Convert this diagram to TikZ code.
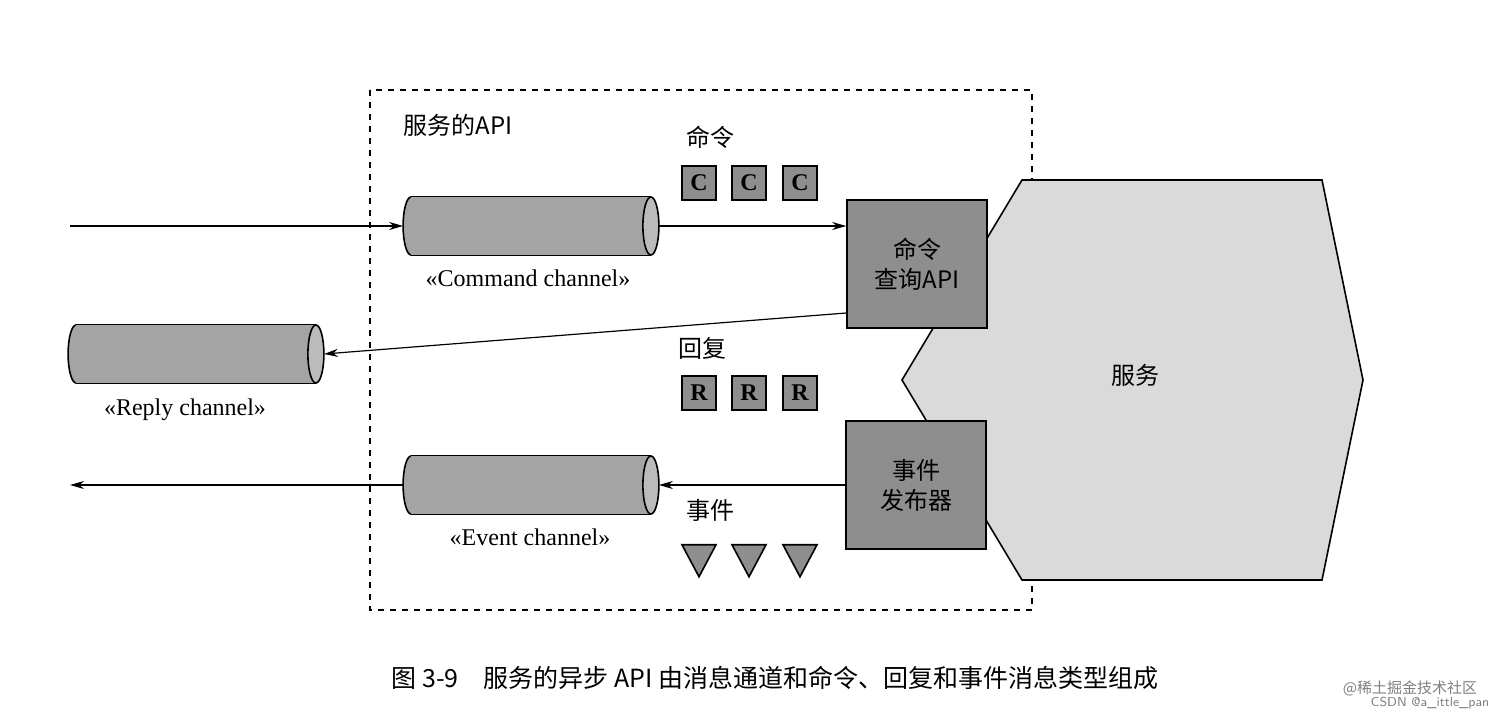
\documentclass[tikz,border=0pt]{standalone}
\usepackage{fontspec}
\setmainfont{Liberation Serif}
\newfontfamily\cjk{Noto Sans CJK SC}
\usetikzlibrary{shapes.geometric,arrows.meta}
\definecolor{boxg}{HTML}{8E8E8E}
\definecolor{cylg}{HTML}{A4A4A4}
\definecolor{hexg}{HTML}{DADADA}
\newcommand\mkchan[3]{% name, cx, cy
  \node[minimum width=127.5pt,minimum height=29pt,inner sep=0pt] (#1) at (#2,#3) {};
  \draw[thick,fill=cylg] ([xshift=4pt]#1.west) ellipse[x radius=8,y radius=29];
  \fill[cylg] ([xshift=4pt]#1.north west) rectangle ([xshift=-4pt]#1.south east);
  \draw[thick] ([xshift=4pt]#1.north west) -- ([xshift=-4pt]#1.north east);
  \draw[thick] ([xshift=4pt]#1.south west) -- ([xshift=-4pt]#1.south east);
  \draw[thick,fill=cylg!75] ([xshift=-4pt]#1.east) ellipse[x radius=8,y radius=29];
}
\begin{document}
\begin{tikzpicture}[x=0.5pt,y=-0.5pt,
  txt/.style={font=\fontsize{12}{14}\selectfont},
  api/.style={draw,thick,fill=boxg,minimum width=70pt,minimum height=64pt,align=center,font=\cjk\fontsize{12}{15}\selectfont},
  msg/.style={draw,thick,fill=boxg,minimum size=17pt,inner sep=0pt,font=\fontsize{12}{14}\selectfont\bfseries},
  tri/.style={draw,thick,fill=boxg,isosceles triangle,shape border rotate=-90,isosceles triangle apex angle=60,isosceles triangle stretches,minimum width=17pt,minimum height=16pt,inner sep=0pt},
  arr/.style={-{Stealth[length=7pt,width=4pt]},semithick}]
\useasboundingbox (0,0) rectangle (1512,717);
\fill[white] (0,0) rectangle (1512,717);
\draw[dashed,semithick] (370,90) rectangle (1032,610);
\node[font=\cjk\fontsize{12}{14}\selectfont] (apit) at (458,125) {服务的API};
% hexagon
\path[draw,thick,fill=hexg] (1022,180) -- (1322,180) -- (1363,380) -- (1322,580) -- (1022,580) -- (902,380) -- cycle;
\node[font=\cjk\fontsize{12}{14}\selectfont] (svc) at (1135,375) {服务};
% boxes
\node[api] (cq) at (917,264) {命令\\查询API};
\node[api] (ep) at (916,485) {事件\\发布器};
% cylinders
\mkchan{cc}{531}{226}
\mkchan{rc}{196}{354}
\mkchan{ec}{531}{485}
\node[txt] (cct) at (528,278) {«Command channel»};
\node[txt] (rct) at (185,410) {«Reply channel»};
\node[txt] (ect) at (530,537) {«Event channel»};
% messages
\node[font=\cjk\fontsize{12}{14}\selectfont] (cl) at (710,137) {命令};
\node[msg] (c1) at (699,183) {C};
\node[msg] (c2) at (749,183) {C};
\node[msg] (c3) at (800,183) {C};
\node[font=\cjk\fontsize{12}{14}\selectfont] (rl) at (702,348) {回复};
\node[msg] (r1) at (699,393) {R};
\node[msg] (r2) at (749,393) {R};
\node[msg] (r3) at (800,393) {R};
\node[font=\cjk\fontsize{12}{14}\selectfont] (el) at (710,510) {事件};
\node[tri] (t1) at (699,555) {};
\node[tri] (t2) at (749,555) {};
\node[tri] (t3) at (800,555) {};
% connectors
\coordinate (inL) at (70,226);
\coordinate (outL) at (70,485);
\draw[arr] (inL) -- (cc.west);
\draw[arr] (cc.east) -- (cq.west |- cc.east);
\draw[arr] (cq.west |- 0,313) -- (rc.east);
\draw[arr] (ep.west) -- (ec.east);
\draw[arr] (ec.west) -- (outL);
\node[font=\cjk\fontsize{12.5}{14}\selectfont] (cap) at (775,678) {图 3-9\quad 服务的异步 API 由消息通道和命令、回复和事件消息类型组成};
\node[font=\cjk\fontsize{7.5}{9}\selectfont,text=gray] (wm1) at (1410,688) {@稀土掘金技术社区};
\node[font=\sffamily\fontsize{6.5}{8}\selectfont,text=gray] (wm2) at (1430,703) {CSDN @a\_ittle\_pan};
\end{tikzpicture}
\end{document}
